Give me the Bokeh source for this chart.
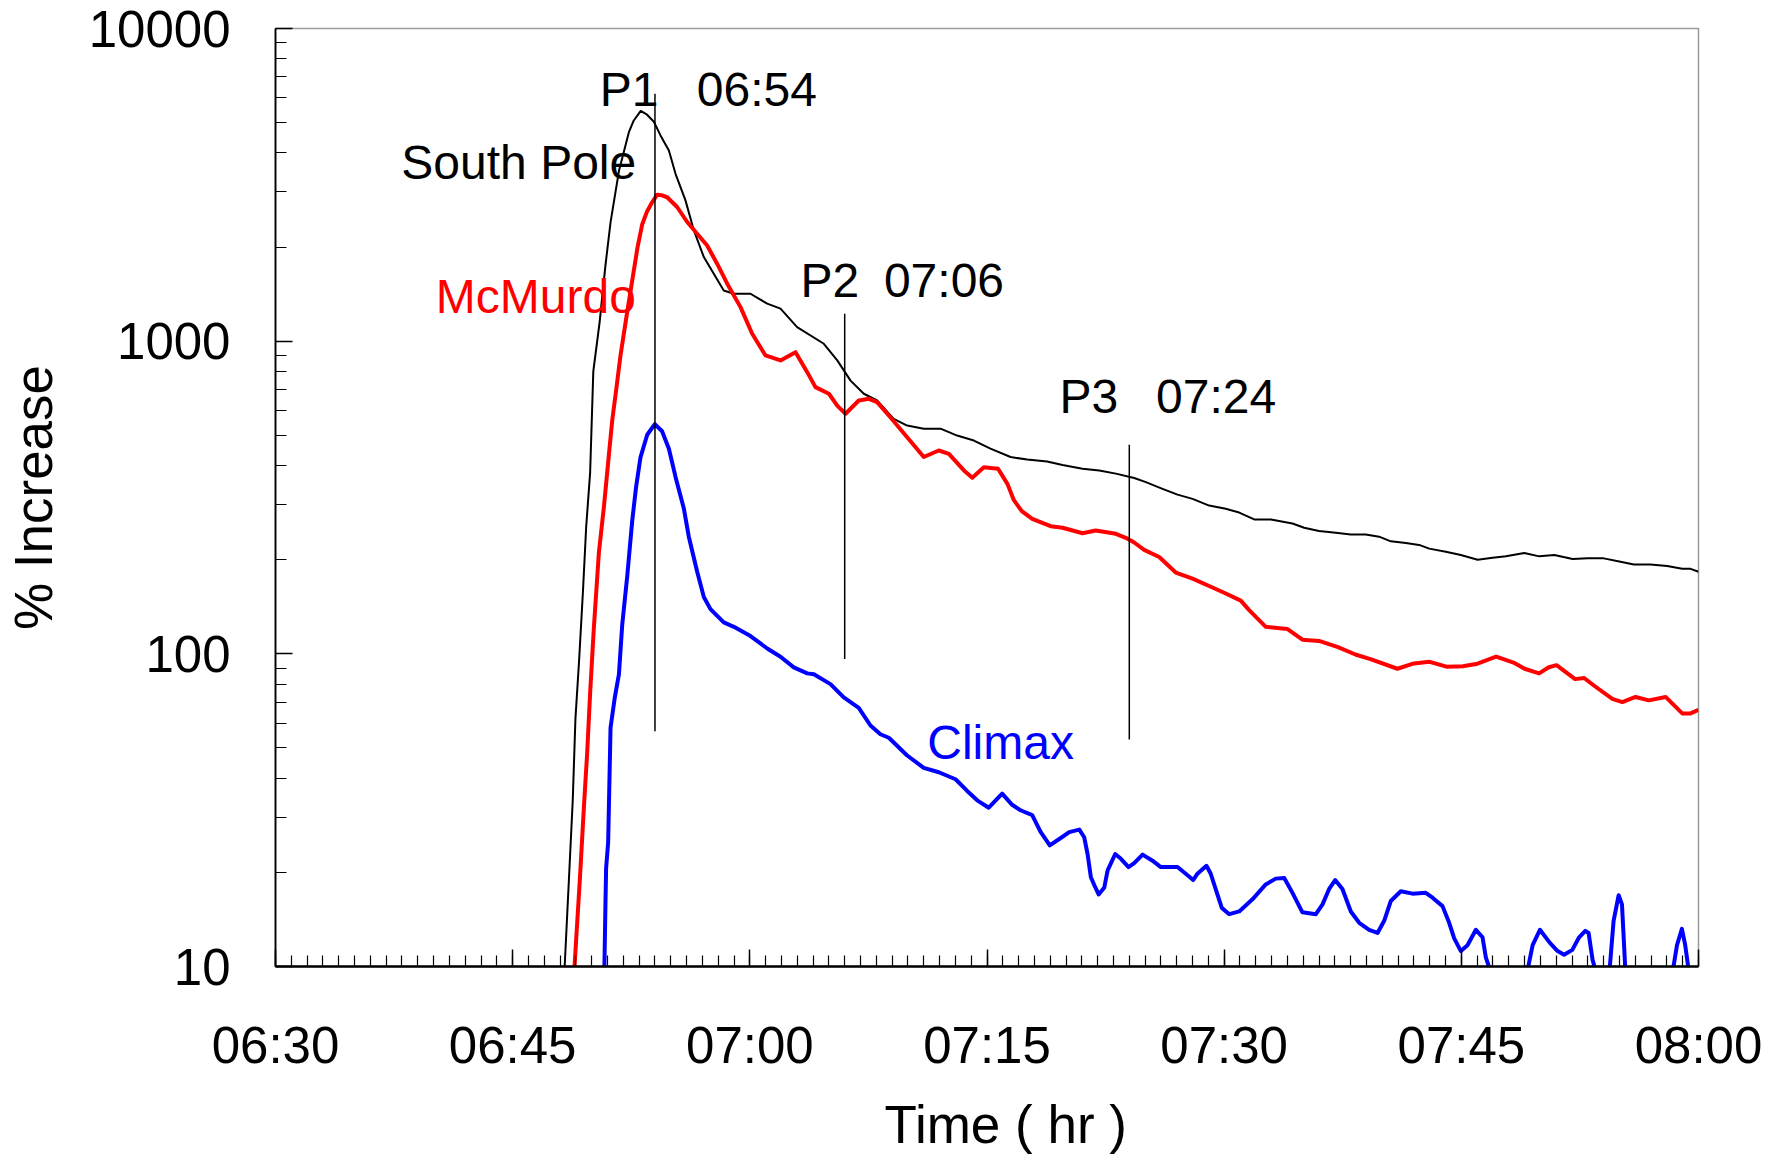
from bokeh.plotting import figure
from bokeh.models import Range1d, FixedTicker, NumeralTickFormatter, Label, ColumnDataSource, Title
from bokeh.embed import file_html
from bokeh.resources import INLINE

# Time axis: minutes after 06:30 UT
tick_minutes = [0, 15, 30, 45, 60, 75, 90]
tick_labels = ["06:30", "06:45", "07:00", "07:15", "07:30", "07:45", "08:00"]
y_ticks = [10, 100, 1000, 10000]

# South Pole neutron monitor, % increase
sp_t = [18.28, 18.6, 18.8, 18.97, 19.2, 19.45, 19.65, 19.9, 20.1, 20.5, 20.87, 21.19, 21.72,
        22.35, 22.66, 23.1, 23.5, 23.93, 24.35, 24.88, 25.3, 25.93, 26.46, 27.09, 27.72,
        28.35, 28.99, 30.04, 31.1, 31.94, 32.99, 34.68, 35.53, 36.37, 37.21, 38.05, 39.1,
        39.95, 41.0, 42.06, 43.11, 44.17, 45.22, 46.49, 47.54, 48.8, 49.78, 51.04, 52.1,
        53.15, 54.31, 55.05, 56.1, 57.05, 58.0, 59.05, 60.1, 60.95, 61.9, 62.96, 64.32,
        65.06, 66.0, 67.06, 68.0, 68.95, 69.8, 70.54, 71.49, 72.33, 72.97, 74.02, 74.97,
        76.03, 76.98, 77.82, 78.98, 79.93, 80.88, 82.04, 83.0, 84.01, 85.07, 85.91, 86.96,
        88.02, 88.97, 89.5, 90.0]
sp_v = [9.8, 21, 34, 62, 95, 160, 255, 380, 800, 1150, 1750, 2400, 3500,
        4660, 5080, 5450, 5300, 5030, 4550, 4075, 3430, 2820, 2260, 1858, 1643,
        1452, 1418, 1418, 1318, 1271, 1109, 981, 868, 748, 679, 646, 564,
        537, 525, 525, 499, 481, 453, 426, 418, 412, 402, 391, 386,
        377, 365, 354, 337, 323, 313, 298, 291, 283, 269, 269, 261,
        253, 247, 244, 241, 241, 237, 229, 226, 223, 217, 212, 207,
        200, 203, 205, 210, 205, 207, 201, 202, 202, 197, 193, 193,
        191, 187, 187, 183]

# McMurdo neutron monitor, % increase
mc_t = [18.9, 19.25, 19.5, 19.71, 19.9, 20.13, 20.45, 20.77, 21.08, 21.3, 21.55, 21.82, 22.2,
        22.56, 22.9, 23.19, 23.5, 23.82, 24.14, 24.4, 24.77, 25.4, 26.04, 26.67, 27.3, 27.93,
        28.57, 29.41, 30.15, 30.99, 31.94, 32.89, 33.63, 34.15, 35.0, 35.53, 36.05, 36.89,
        37.53, 38.05, 38.9, 39.95, 41.0, 41.95, 42.59, 43.54, 44.07, 44.8, 45.7, 46.3, 46.7,
        47.2, 47.86, 49.02, 49.78, 51.04, 51.88, 53.15, 53.78, 54.31, 54.94, 55.89, 56.94,
        58.0, 59.26, 60.1, 61.05, 61.58, 62.63, 64.01, 64.95, 66.0, 67.2, 68.3, 69.3, 70.96,
        72.0, 73.0, 74.06, 75.1, 76.02, 77.2, 78.3, 79.0, 79.92, 80.53, 81.02, 82.2, 82.77,
        83.38, 84.55, 85.18, 86.02, 86.86, 87.92, 88.97, 89.5, 90.0]
mc_v = [9.8, 19, 32, 48, 75, 120, 210, 295, 430, 560, 700, 900, 1200,
        1560, 2000, 2360, 2600, 2780, 2940, 2930, 2886, 2686, 2405, 2205, 2023, 1769,
        1527, 1285, 1056, 900, 868, 922, 796, 713, 679, 622, 586, 646,
        654, 638, 570, 493, 426, 447, 436, 386, 366, 395, 391, 349, 310,
        286, 270, 256, 253, 243, 248, 242, 235, 227, 215, 204, 182,
        174, 163, 156, 148, 138, 122, 120, 111, 110, 105, 99.5, 96, 89.6,
        93.2, 94.3, 91, 91.2, 93, 98, 93.8, 89.6, 86.6, 90.6, 92, 83, 83.7,
        79.2, 71.8, 70.1, 72.8, 71, 72.8, 64.5, 64.5, 66.2]

# Climax neutron monitor, % increase (values under 10 fall below the axis)
cl_t = [20.8, 20.87, 20.91, 21.04, 21.19, 21.45, 21.72, 21.93, 22.25, 22.56, 22.8, 23.08,
        23.51, 23.99, 24.45, 24.88, 25.3, 25.83, 26.14, 26.67, 27.09, 27.51, 28.35, 28.99,
        30.04, 31.1, 31.94, 32.78, 33.63, 34.05, 35.1, 35.94, 36.89, 37.63, 38.26, 38.79,
        39.95, 41.0, 41.95, 43.01, 43.73, 44.38, 45.11, 45.96, 46.59, 47.12, 47.86, 48.38,
        48.97, 49.78, 50.2, 50.84, 51.15, 51.36, 51.57, 51.79, 52.06, 52.42, 52.63, 53.11,
        53.47, 53.95, 54.31, 54.84, 55.47, 55.99, 57.05, 57.57, 58.04, 58.31, 58.88, 59.15,
        59.51, 59.85, 60.32, 60.95, 61.79, 62.63, 63.26, 63.8, 64.32, 64.95, 65.8, 66.22,
        66.64, 67.02, 67.48, 68.01, 68.54, 69.17, 69.7, 70.12, 70.54, 71.17, 71.91, 72.75,
        73.18, 73.81, 74.23, 74.55, 74.97, 75.39, 75.92, 76.34, 76.55, 76.8, 77.0, 79.0,
        79.2, 79.51, 79.97, 80.6, 81.09, 81.5, 82.02, 82.45, 82.84, 83.05, 83.3, 83.47,
        83.7, 84.2, 84.38, 84.63, 84.95, 85.16, 85.37, 85.6, 88.2, 88.39, 88.64, 88.95,
        89.16, 89.37, 89.6]
cl_v = [9.8, 16, 20.6, 25, 58, 72, 86, 124, 178, 266, 340, 424,
        502, 543, 515, 453, 368, 291, 237, 183, 152, 139, 126, 122,
        114, 104, 97.9, 90.5, 86.6, 86, 80, 72.6, 67.2, 59, 55.3, 53.9,
        47.3, 43.2, 41.8, 39.7, 36.5, 34, 32.2, 35.7, 32.9, 31.6, 30.5, 27,
        24.4, 26, 26.9, 27.4, 25.9, 22.9, 19.3, 18.2, 17, 17.9, 20.3, 22.9,
        22.1, 20.8, 21.4, 22.8, 21.8, 20.8, 20.8, 19.8, 18.9, 19.8, 21.0, 19.8,
        17.4, 15.4, 14.7, 15.0, 16.4, 18.3, 19.1, 19.2, 17.2, 14.9, 14.7, 15.8,
        17.7, 18.9, 17.7, 15, 13.8, 13.1, 12.8, 14, 16.2, 17.4, 17.1, 17.2,
        16.6, 15.6, 13.8, 12.3, 11.2, 11.7, 13.1, 12.4, 10.7, 9.8, 7, 7,
        9.8, 11.7, 13.1, 11.9, 11.2, 10.9, 11.3, 12.4, 13.0, 12.8, 10.5, 9.8,
        7, 7, 9.8, 14, 16.9, 15.8, 9.8, 7, 7, 9.8, 11.7, 13.2,
        11.7, 9.8, 7]

# Peak markers P1, P2, P3
peak_names = ["P1", "P2", "P3"]
peak_labels = ["06:54", "07:06", "07:24"]
peak_t = [24, 36, 54]
peak_top = [6185, 1223, 466]
peak_bottom = [56.5, 96.2, 53.2]

FONT = "Liberation Sans"

p = figure(width=1782, height=1171, y_axis_type="log",
           x_range=Range1d(0, 90), y_range=Range1d(10, 10000),
           output_backend="svg", toolbar_location=None,
           min_border_left=275, min_border_right=84,
           min_border_top=28, min_border_bottom=205,
           background_fill_color="white", border_fill_color="white")

p.outline_line_color = "#9a9a9a"
p.outline_line_width = 1.5
p.xgrid.visible = False
p.ygrid.visible = False

p.line(sp_t, sp_v, line_color="black", line_width=2, line_join="round")
p.line(mc_t, mc_v, line_color="#ff0000", line_width=4, line_join="round")
p.line(cl_t, cl_v, line_color="#0000ff", line_width=4, line_join="round")

src = ColumnDataSource(dict(t=peak_t, top=peak_top, bottom=peak_bottom))
p.segment(x0="t", y0="bottom", x1="t", y1="top", source=src,
          line_color="black", line_width=1.5)

# x axis
xa = p.xaxis[0]
xa.ticker = FixedTicker(ticks=tick_minutes, minor_ticks=list(range(0, 91)))
xa.major_label_overrides = {m: s for m, s in zip(tick_minutes, tick_labels)}
# y axis
ya = p.yaxis[0]
ya.ticker = FixedTicker(ticks=y_ticks,
                        minor_ticks=[k * 10 ** d for d in range(1, 4) for k in range(2, 10)])
ya.formatter = NumeralTickFormatter(format="0")
ya.axis_label = "% Increase"

for ax in (xa, ya):
    ax.axis_line_color = "black"
    ax.major_tick_in = 17
    ax.major_tick_out = 0
    ax.minor_tick_in = 11
    ax.minor_tick_out = 0
    ax.major_tick_line_color = "black"
    ax.minor_tick_line_color = "black"
    ax.major_tick_line_width = 1.5
    ax.minor_tick_line_width = 1.2
    ax.major_label_text_font = FONT
    ax.major_label_text_font_size = "51px"
    ax.major_label_text_color = "black"
    ax.axis_label_text_font = FONT
    ax.axis_label_text_font_size = "53px"
    ax.axis_label_text_font_style = "normal"
    ax.axis_label_text_color = "black"

xa.axis_line_width = 2.5
ya.axis_line_width = 1.8
xa.major_label_standoff = 50
ya.major_label_standoff = 45
ya.axis_label_standoff = 23

# x-axis title, placed a little right of the frame centre
p.add_layout(Title(text="Time ( hr )", align="left", offset=609, standoff=32,
                   text_font=FONT, text_font_size="53px", text_font_style="normal",
                   text_color="black"), "below")

def note(x, y, text, color="black"):
    p.add_layout(Label(x=x, y=y, text=text, text_font=FONT, text_font_size="48px",
                       text_color=color, text_align="left", text_baseline="alphabetic"))

# peak names and their times
for name, label, nx, lx, y in zip(peak_names, peak_labels,
                                  [20.51, 33.2, 49.59], [26.65, 38.48, 55.69],
                                  [6385, 1564, 667]):
    note(nx, y, name)
    note(lx, y, label)

note(7.96, 3718, "South Pole")
note(10.14, 1394, "McMurdo", "#ff0000")
note(41.22, 51.9, "Climax", "#0000ff")

open("out.html", "w").write(file_html(p, INLINE))
